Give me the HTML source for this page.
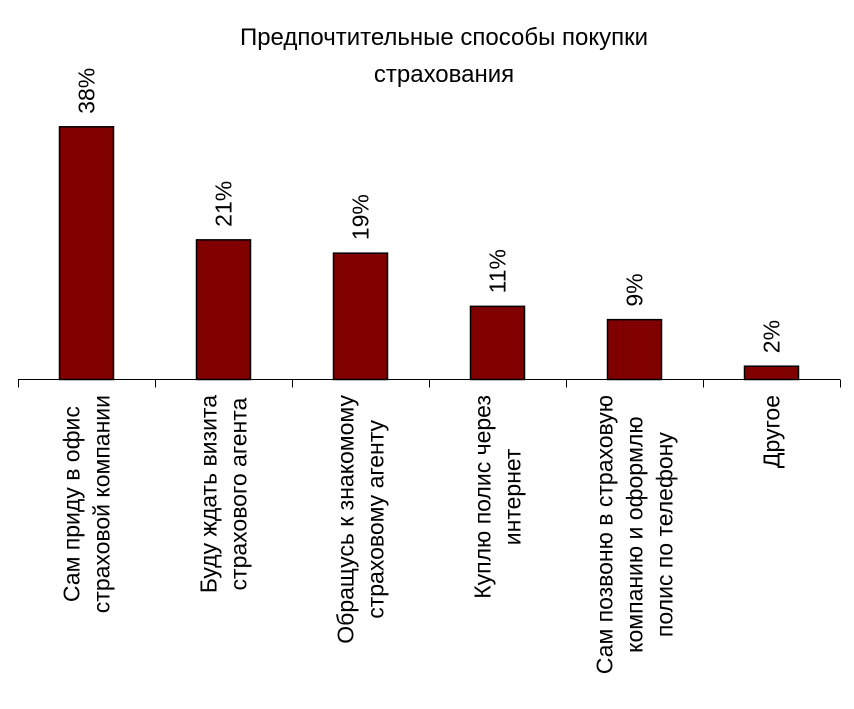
<!DOCTYPE html>
<html><head><meta charset="utf-8"><style>
html,body{margin:0;padding:0;background:#fff;}
svg{display:block;font-family:"Liberation Sans",Arial,sans-serif;}
</style></head><body>
<svg id="chart" width="854" height="709" viewBox="0 0 854 709">
<g font-size="24" text-anchor="middle" fill="#000">
<text x="444" y="45">Предпочтительные способы покупки</text>
<text x="444" y="82">страхования</text>
</g>
<g id="bars"></g>
<line x1="18" y1="379.5" x2="840" y2="379.5" stroke="#000" stroke-width="1"/>
<g id="ticks"></g>
<g id="labels"></g>
</svg>
<script>
const categories = [
  ["Сам приду в офис","страховой компании"],
  ["Буду ждать визита","страхового агента"],
  ["Обращусь к знакомому","страховому агенту"],
  ["Куплю полис через","интернет"],
  ["Сам позвоню в страховую","компанию и оформлю","полис по телефону"],
  ["Другое"]
];
const values = [38, 21, 19, 11, 9, 2];
const valueLabels = ["38%","21%","19%","11%","9%","2%"];

const NS = "http://www.w3.org/2000/svg";
const x0 = 18, x1 = 840, baseY = 379.5, pxPer = 6.65;
const band = (x1 - x0) / categories.length;
const xCenter = i => x0 + band * (i + 0.5);
const yScale = v => baseY - v * pxPer;
const barsG = document.getElementById('bars');
const ticksG = document.getElementById('ticks');
const labelsG = document.getElementById('labels');

for (let i = 0; i <= categories.length; i++) {
  const t = document.createElementNS(NS, 'line');
  
  
  const x = Math.round(x0 + band * i) + 0.5;
  t.setAttribute('x1', x); t.setAttribute('x2', x);
  t.setAttribute('y1', baseY); t.setAttribute('y2', baseY + 8);
  t.setAttribute('stroke', '#000');
  ticksG.appendChild(t);
}

values.forEach((v, i) => {
  const cx = xCenter(i);
  const top = yScale(v);
  const r = document.createElementNS(NS, 'rect');
  
  
  r.setAttribute('x', cx - 27); r.setAttribute('width', 54);
  r.setAttribute('y', top); r.setAttribute('height', baseY - top);
  r.setAttribute('fill', '#800000'); r.setAttribute('stroke', '#000'); r.setAttribute('stroke-width', '1.5');
  barsG.appendChild(r);

  const t = document.createElementNS(NS, 'text');
  
  
  const tx = cx + 8, ty = top - 13;
  t.setAttribute('x', tx); t.setAttribute('y', ty);
  t.setAttribute('transform', `rotate(-90 ${tx} ${ty})`);
  t.setAttribute('font-size', '23');
  t.textContent = valueLabels[i];
  barsG.appendChild(t);
});

categories.forEach((lines, i) => {
  const cx = xCenter(i);
  const g = document.createElementNS(NS, 'g');
  
  
  labelsG.appendChild(g);
  const n = lines.length;
  const texts = lines.map((s, j) => {
    const t = document.createElementNS(NS, 'text');
    t.setAttribute('font-size', '23');
    t.setAttribute('text-anchor', 'middle');
    t.textContent = s;
    g.appendChild(t);
    return t;
  });
  let maxLen = 0;
  texts.forEach(t => { maxLen = Math.max(maxLen, t.getComputedTextLength()); });
  const midY = 395 + maxLen / 2;
  texts.forEach((t, j) => {
    const lx = cx + (j - (n - 1) / 2) * 30 + 8;
    t.setAttribute('x', lx); t.setAttribute('y', midY);
    t.setAttribute('transform', `rotate(-90 ${lx} ${midY})`);
  });
});
</script>
</body></html>
